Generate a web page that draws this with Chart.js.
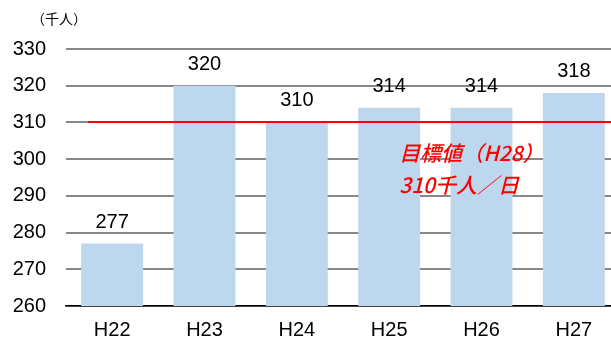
<!DOCTYPE html>
<html><head><meta charset="utf-8">
<script src="https://cdn.jsdelivr.net/npm/chart.js@4/dist/chart.umd.min.js"></script>
<style>html,body{margin:0;padding:0;overflow:hidden;background:#fff}#wrap{width:620px;height:340px;position:relative}</style>
</head><body><div id="wrap"><canvas id="c"></canvas></div>
<script>
const categories = ['H22','H23','H24','H25','H26','H27'];
const values = [277, 320, 310, 314, 314, 318];
const target = 310;
const targetLabel1 = '目標値（H28）';
const targetLabel2 = '310千人／日';
const unitLabel = '（千人）';
const yMin = 260, yMax = 330, yStep = 10;

const FONT = '"Liberation Sans", Arial, sans-serif';
const JFONT = '"Noto Sans CJK JP", sans-serif';

const overlay = {
  id: 'overlay',
  afterDatasetsDraw(chart) {
    const ctx = chart.ctx, y = chart.scales.y, x = chart.scales.x, a = chart.chartArea;
    ctx.save();
    // value labels
    ctx.fillStyle = '#000';
    ctx.font = '20px ' + FONT;
    ctx.textAlign = 'center';
    ctx.textBaseline = 'alphabetic';
    const meta = chart.getDatasetMeta(0);
    meta.data.forEach((bar, i) => {
      ctx.fillText(String(values[i]), bar.x, bar.y - 16);
    });
    // target line
    const ty = Math.round(y.getPixelForValue(target));
    ctx.strokeStyle = '#ff0000';
    ctx.lineWidth = 2;
    ctx.beginPath();
    ctx.moveTo(a.left + 22, ty);
    ctx.lineTo(a.right, ty);
    ctx.stroke();
    // target text
    ctx.fillStyle = '#ff0000';
    ctx.font = 'italic 500 21px ' + JFONT;
    ctx.textAlign = 'left';
    ctx.textBaseline = 'middle';
    const tx = x.getPixelForValue(3) + 10;
    ctx.fillText(targetLabel1, tx, y.getPixelForValue(301.6));
    ctx.fillText(targetLabel2, tx, y.getPixelForValue(293.0));
    // unit label
    ctx.fillStyle = '#000';
    ctx.font = '14px ' + JFONT;
    ctx.textAlign = 'left';
    ctx.fillText(unitLabel, 31, 19);
    ctx.restore();
  }
};

new Chart(document.getElementById('c'), {
  type: 'bar',
  data: {
    labels: categories,
    datasets: [{
      data: values,
      backgroundColor: '#bdd7ee',
      borderWidth: 0,
      barPercentage: 0.67,
      categoryPercentage: 1.0
    }]
  },
  options: {
    responsive: true,
    maintainAspectRatio: false,
    animation: false,
    devicePixelRatio: 1,
    layout: { padding: { top: 49, right: 0, left: 0, bottom: 0 } },
    plugins: { legend: { display: false }, tooltip: { enabled: false } },
    scales: {
      x: {
        grid: { display: false, drawTicks: false },
        border: { display: true, color: '#000', width: 1.5 },
        ticks: { color: '#000', font: { size: 20, family: FONT }, padding: 12 },
        afterFit(scale) { scale.height = 34; }
      },
      y: {
        min: yMin, max: yMax,
        ticks: { stepSize: yStep, color: '#000', font: { size: 20, family: FONT }, padding: 20 },
        grid: { color: '#888888', lineWidth: 2, drawTicks: false },
        border: { display: false },
        afterFit(scale) { scale.width = 66; }
      }
    }
  },
  plugins: [overlay]
});
</script></body></html>
